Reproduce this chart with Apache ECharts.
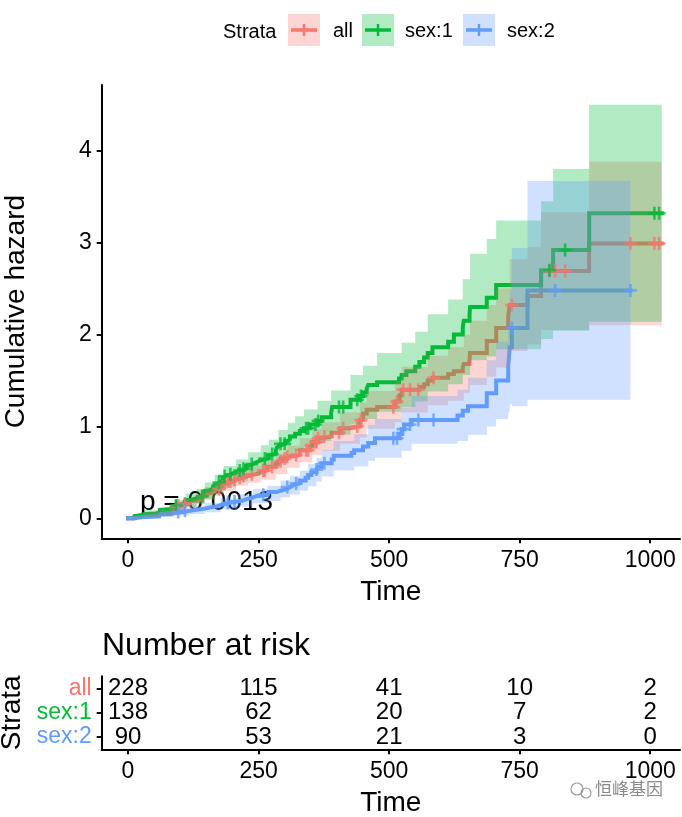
<!DOCTYPE html>
<html><head><meta charset="utf-8">
<script src="https://cdn.jsdelivr.net/npm/echarts@6/dist/echarts.min.js"></script>
<style>html,body{margin:0;padding:0;background:#fff}#c{width:682px;height:817px}</style>
</head><body><div id="c"></div>
<script>
// ---------- data ----------
const strata = ['all', 'sex:1', 'sex:2'];
const strataColors = ['#F8766D', '#00BA38', '#619CFF'];
const ribbonColors = ['rgba(248,118,109,0.3)', 'rgba(0,186,56,0.3)', 'rgba(97,156,255,0.3)'];

// cumulative hazard step curves (time, cumhaz)
const allTime = [0,11,13,26,31,53,60,65,79,88,93,107,118,131,142,147,156,166,176,183,189,199,207,218,230,245,254,267,283,288,293,305,310,329,348,353,364,371,390,406,426,444,450,457,477,511,520,524,558,567,574,583,613,624,641,643,654,655,687,705,728,731,765,791,883,1022];
const allHaz = [0,0.013,0.022,0.03,0.04,0.05,0.065,0.08,0.10,0.12,0.14,0.16,0.19,0.21,0.24,0.27,0.29,0.32,0.35,0.38,0.40,0.42,0.44,0.46,0.48,0.50,0.52,0.56,0.59,0.62,0.65,0.67,0.69,0.74,0.78,0.83,0.87,0.89,0.93,0.98,1.00,1.07,1.14,1.18,1.21,1.27,1.34,1.40,1.43,1.46,1.50,1.53,1.57,1.60,1.64,1.68,1.74,1.80,1.93,2.07,2.20,2.32,2.42,2.69,2.99,2.99];

const sex1Time = [0,11,12,13,15,26,30,53,60,61,65,81,88,93,107,110,122,131,144,147,153,163,166,170,176,181,183,189,197,207,218,226,230,239,246,254,268,270,283,285,288,291,301,306,310,320,329,337,348,363,371,389,391,426,444,450,457,460,477,519,524,533,550,558,567,574,583,613,624,641,643,654,655,687,705,791,814,883,1022];
const sex1Haz = [0,0.015,0.022,0.03,0.037,0.044,0.052,0.06,0.075,0.09,0.10,0.12,0.14,0.16,0.18,0.20,0.22,0.24,0.27,0.30,0.32,0.35,0.37,0.39,0.41,0.44,0.46,0.48,0.50,0.52,0.54,0.57,0.59,0.61,0.63,0.65,0.68,0.70,0.74,0.77,0.79,0.81,0.84,0.86,0.89,0.92,0.95,0.98,1.02,1.06,1.10,1.15,1.21,1.29,1.33,1.37,1.41,1.45,1.48,1.52,1.56,1.60,1.65,1.70,1.75,1.80,1.86,1.92,2.00,2.08,2.15,2.22,2.30,2.40,2.54,2.70,2.92,3.32,3.32];

const sex2Time = [0,12,26,60,61,79,88,105,118,131,147,156,170,177,186,197,210,222,228,239,245,267,269,285,292,305,310,315,329,340,345,351,361,364,371,390,394,428,433,450,460,473,520,524,529,543,631,641,651,687,705,728,731,735,765,962];
const sex2Haz = [0,0.011,0.022,0.034,0.045,0.057,0.069,0.081,0.093,0.105,0.118,0.13,0.143,0.156,0.17,0.183,0.197,0.21,0.225,0.24,0.255,0.27,0.286,0.30,0.32,0.34,0.36,0.38,0.41,0.44,0.47,0.50,0.53,0.56,0.60,0.64,0.68,0.71,0.74,0.78,0.82,0.87,0.92,0.97,1.02,1.07,1.12,1.17,1.22,1.36,1.50,1.65,1.86,2.07,2.48,2.48];

// confidence bands (step start time, lower, upper)
const allCiTime = [0,11,31,60,88,107,131,147,166,183,207,230,254,283,305,329,353,371,406,444,457,511,524,574,613,643,655,687,705,731,765,791,883];
const allCiLow = [0,0,0.015,0.03,0.075,0.108,0.15,0.20,0.245,0.30,0.353,0.387,0.42,0.48,0.55,0.61,0.685,0.735,0.81,0.88,0.975,1.045,1.15,1.23,1.28,1.36,1.45,1.54,1.64,1.82,1.89,2.05,2.10];
const allCiHigh = [0,0.028,0.065,0.10,0.165,0.212,0.27,0.34,0.395,0.46,0.527,0.573,0.62,0.70,0.79,0.87,0.975,1.045,1.15,1.26,1.385,1.495,1.65,1.77,1.86,2.00,2.15,2.32,2.50,2.82,2.95,3.33,3.88];
const allCiEnd = 1022;

const sex1CiTime = [0,11,30,60,88,110,131,147,166,183,207,230,254,270,288,306,320,337,363,389,426,450,477,524,550,574,613,641,655,687,705,791,814,883];
const sex1CiLow = [0,0,0.017,0.03,0.08,0.13,0.16,0.21,0.27,0.35,0.40,0.46,0.505,0.545,0.62,0.68,0.73,0.775,0.84,0.91,1.02,1.08,1.16,1.21,1.27,1.38,1.46,1.56,1.72,1.76,1.84,1.95,2.04,2.14];
const sex1CiHigh = [0,0.035,0.087,0.12,0.20,0.27,0.32,0.39,0.47,0.57,0.64,0.72,0.795,0.855,0.96,1.04,1.11,1.185,1.28,1.39,1.56,1.66,1.80,1.91,2.03,2.22,2.38,2.60,2.88,3.04,3.24,3.45,3.80,4.50];
const sex1CiEnd = 1022;

const sex2CiTime = [0,12,26,61,88,118,147,177,210,239,267,292,310,329,345,361,371,394,433,460,473,524,543,631,651,687,705,728,731,735,765];
const sex2CiLow = [0,0,0.002,0.015,0.031,0.048,0.066,0.096,0.129,0.163,0.187,0.228,0.26,0.30,0.35,0.40,0.455,0.52,0.565,0.625,0.66,0.735,0.81,0.84,0.91,1.00,1.08,1.15,1.24,1.22,1.29];
const sex2CiHigh = [0,0.026,0.042,0.075,0.107,0.138,0.17,0.216,0.265,0.317,0.353,0.412,0.46,0.52,0.59,0.66,0.745,0.84,0.915,1.015,1.08,1.205,1.33,1.40,1.53,1.72,1.92,2.15,2.48,2.94,3.67];
const sex2CiEnd = 962;

// censoring times
const sex1Censor = [92,142,174,185,196,214,221,237,262,276,292,300,341,345,359,364,404,412,439,446,807,837,1008,1017];
const sex2Censor = [96,109,191,204,259,305,322,361,376,508,515,527,540,556,585,735,818,962];

// risk table
const riskTimes = [0, 250, 500, 750, 1000];
const riskAll = [228, 115, 41, 10, 2];
const riskSex1 = [138, 62, 20, 7, 2];
const riskSex2 = [90, 53, 21, 3, 0];

const timeTicks = [0, 250, 500, 750, 1000];
const hazTicks = [0, 1, 2, 3, 4];
const pValueText = 'p = 0.0013';

// ---------- build ----------
const FONT = '"Liberation Sans", Arial, sans-serif';
const curves = [
  {time: allTime, haz: allHaz, ci: [allCiTime, allCiLow, allCiHigh, allCiEnd]},
  {time: sex1Time, haz: sex1Haz, ci: [sex1CiTime, sex1CiLow, sex1CiHigh, sex1CiEnd]},
  {time: sex2Time, haz: sex2Haz, ci: [sex2CiTime, sex2CiLow, sex2CiHigh, sex2CiEnd]}
];
const allCensor = Array.from(new Set(sex1Censor.concat(sex2Censor))).sort((a, b) => a - b);
const censors = [allCensor, sex1Censor, sex2Censor];
function hazAt(c, t) {
  let v = 0;
  for (let i = 0; i < c.time.length; i++) { if (c.time[i] <= t) v = c.haz[i]; }
  return v;
}
const PLUS = 'path://M4,0h2v4h4v2h-4v4h-2v-4h-4v-2h4z';

const xMin = -50.4, xMax = 1057;
const series = [];
curves.forEach((c, k) => {
  series.push({
    type: 'line', name: strata[k], xAxisIndex: 0, yAxisIndex: 0, step: 'end',
    showSymbol: false, symbol: 'none', z: 2, silent: true, animation: false,
    lineStyle: {color: strataColors[k], width: 4, cap: 'square', join: 'miter'},
    data: c.time.map((t, i) => [t, c.haz[i]])
  });
});
curves.forEach((c, k) => {
  const [ct, lo, hi, end] = c.ci;
  series.push({
    type: 'custom', xAxisIndex: 0, yAxisIndex: 0, z: 3, silent: true, animation: false, clip: true,
    data: ct.map((t, i) => [t, hi[i]]),
    renderItem: function (params, api) {
      if (params.dataIndex !== 0) return;
      const pts = [];
      for (let i = 0; i < ct.length; i++) {
        const t2 = i + 1 < ct.length ? ct[i + 1] : end;
        pts.push(api.coord([ct[i], hi[i]]));
        pts.push(api.coord([t2, hi[i]]));
      }
      for (let i = ct.length - 1; i >= 0; i--) {
        const t2 = i + 1 < ct.length ? ct[i + 1] : end;
        pts.push(api.coord([t2, lo[i]]));
        pts.push(api.coord([ct[i], lo[i]]));
      }
      return {type: 'polygon', shape: {points: pts}, style: {fill: ribbonColors[k], stroke: null}};
    }
  });
});
curves.forEach((c, k) => {
  series.push({
    type: 'scatter', xAxisIndex: 0, yAxisIndex: 0, z: 4, silent: true, animation: false,
    symbol: PLUS, symbolSize: 13, itemStyle: {color: strataColors[k]},
    data: censors[k].map(t => [t, hazAt(c, t)])
  });
});
[riskAll, riskSex1, riskSex2].forEach((arr, k) => {
  series.push({
    type: 'scatter', xAxisIndex: 1, yAxisIndex: 1, silent: true, animation: false,
    symbolSize: 0, itemStyle: {color: 'rgba(0,0,0,0)'},
    label: {show: true, position: 'inside', formatter: p => String(p.value[2]),
      color: '#000', opacity: 1, textBorderWidth: 0, fontSize: 24, fontFamily: FONT},
    data: riskTimes.map((t, i) => [t, k, arr[i]])
  });
});

const axisLineStyle = {color: '#000', width: 2};
const plain = v => String(v);
function timeAxis(gi, gap) {
  return {type: 'value', gridIndex: gi, min: xMin, max: xMax,
    axisLine: {show: true, onZero: false, lineStyle: axisLineStyle},
    axisTick: {show: true, length: 5, lineStyle: axisLineStyle, customValues: timeTicks},
    axisLabel: {customValues: timeTicks, formatter: plain, color: '#000', fontSize: 23, margin: 11, fontFamily: FONT},
    splitLine: {show: false},
    name: 'Time', nameLocation: 'middle', nameGap: gap,
    nameTextStyle: {color: '#000', fontSize: 28, fontFamily: FONT}};
}
const option = {
  animation: false,
  backgroundColor: '#fff',
  textStyle: {fontFamily: FONT},
  grid: [
    {left: 101.7, right: 2, top: 85, bottom: 817 - 538.3, containLabel: false, outerBoundsMode: 'none'},
    {left: 101.7, right: 2, top: 676.3, height: 73, containLabel: false, outerBoundsMode: 'none'}
  ],
  xAxis: [timeAxis(0, 40), timeAxis(1, 40)],
  yAxis: [
    {type: 'value', gridIndex: 0, min: -0.2176, max: 4.715,
     axisLine: {show: true, onZero: false, lineStyle: axisLineStyle},
     axisTick: {show: true, length: 5, lineStyle: axisLineStyle, customValues: hazTicks},
     axisLabel: {customValues: hazTicks, formatter: plain, color: '#000', fontSize: 23, margin: 10, fontFamily: FONT},
     splitLine: {show: false},
     name: 'Cumulative hazard', nameLocation: 'middle', nameGap: 71, nameRotate: 90,
     nameTextStyle: {color: '#000', fontSize: 28, fontFamily: FONT}},
    {type: 'category', gridIndex: 1, data: strata, inverse: true,
     axisLine: {show: true, onZero: false, lineStyle: axisLineStyle},
     axisTick: {show: true, length: 5, alignWithLabel: true, lineStyle: axisLineStyle},
     axisLabel: {interval: 0, fontSize: 23, margin: 10, fontFamily: FONT,
       color: (v, i) => strataColors[strata.indexOf(v)]},
     splitLine: {show: false},
     name: 'Strata', nameLocation: 'middle', nameGap: 73, nameRotate: 90,
     nameTextStyle: {color: '#000', fontSize: 28, fontFamily: FONT}}
  ],
  series: series,
  graphic: [
    {type: 'text', left: 140, top: 488, silent: true,
     style: {text: pValueText, fill: '#000', font: '28px ' + FONT}},
    {type: 'text', left: 102, top: 630, silent: true,
     style: {text: 'Number at risk', fill: '#000', font: '32px ' + FONT}},
    {type: 'text', left: 223, top: 22, silent: true,
     style: {text: 'Strata', fill: '#000', font: '20px ' + FONT}},
    {type: 'text', left: 595, top: 780, silent: true,
     style: {text: '恒峰基因', fill: '#8a8a8a', font: '17px "Noto Sans CJK SC", sans-serif'}},
    {type: 'circle', shape: {cx: 577, cy: 789, r: 6}, silent: true, style: {fill: 'none', stroke: '#9a9a9a', lineWidth: 1.2}},
    {type: 'circle', shape: {cx: 586, cy: 793, r: 5}, silent: true, style: {fill: 'none', stroke: '#9a9a9a', lineWidth: 1.2}}
  ]
};
const keyX = [288, 362, 463];
const keyTextX = [333, 405, 507];
strata.forEach((s, k) => {
  option.graphic.push(
    {type: 'rect', shape: {x: keyX[k], y: 14, width: 32, height: 32}, silent: true, style: {fill: ribbonColors[k]}},
    {type: 'line', shape: {x1: keyX[k] + 3, y1: 30, x2: keyX[k] + 29, y2: 30}, silent: true, style: {stroke: strataColors[k], lineWidth: 3.5}},
    {type: 'line', shape: {x1: keyX[k] + 16, y1: 24, x2: keyX[k] + 16, y2: 36}, silent: true, style: {stroke: strataColors[k], lineWidth: 2.5}},
    {type: 'text', left: keyTextX[k], top: 21, silent: true, style: {text: s, fill: '#000', font: '20px ' + FONT}}
  );
});

const chart = echarts.init(document.getElementById('c'), null, {renderer: 'canvas'});
chart.setOption(option);
</script>
</body></html>
